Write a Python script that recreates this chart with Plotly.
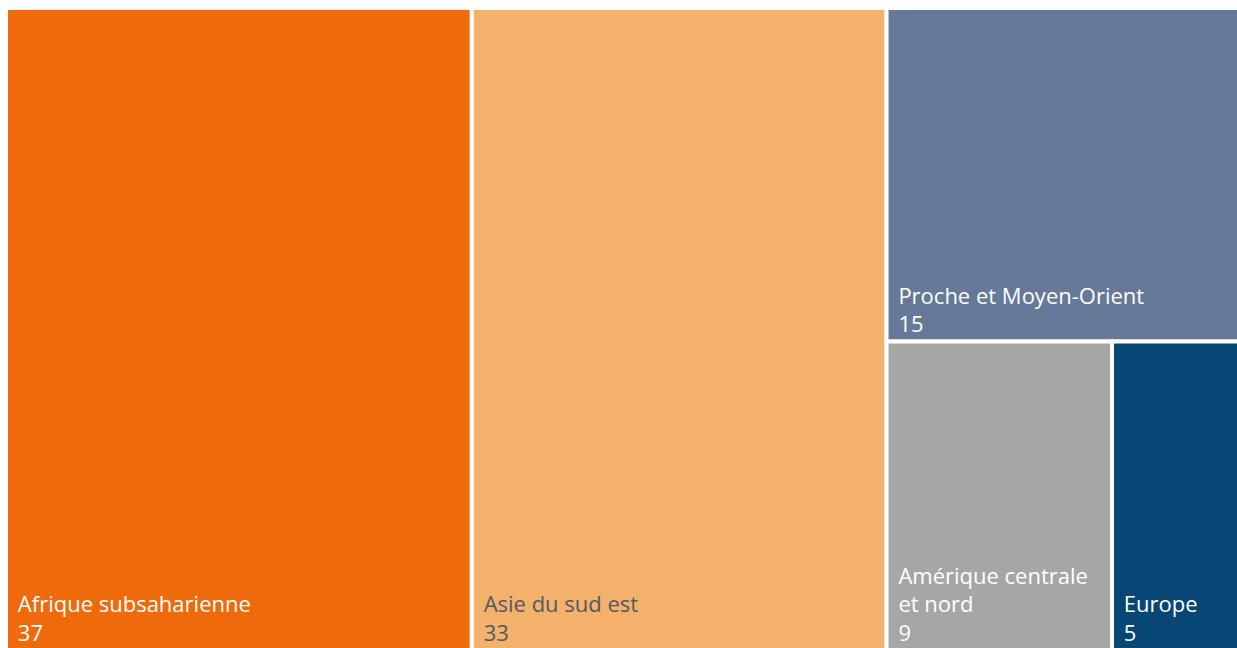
import plotly.graph_objects as go

labels = ["Afrique subsaharienne", "Asie du sud est", "Proche et Moyen-Orient",
          "Amérique centrale et nord", "Europe"]
label_lines = [["Afrique subsaharienne"], ["Asie du sud est"], ["Proche et Moyen-Orient"],
               ["Amérique centrale", "et nord"], ["Europe"]]
values = [37.4, 33.3, 14.7, 8.7, 4.9]
colors = ["#EE6A0B", "#F4B16B", "#667999", "#A6A6A6", "#084675"]
text_colors = ["#FFFFFF", "#545962", "#FFFFFF", "#FFFFFF", "#FFFFFF"]

PAD = '<span style="font-size:17px">\u00a0\u00a0</span>'
display = ["".join(PAD + ln + "<br>" for ln in lines) + PAD for lines in label_lines]

fig = go.Figure(go.Treemap(
    labels=labels,
    parents=[""] * len(labels),
    values=values,
    customdata=display,
    texttemplate="%{customdata}%{value:.0f}",
    textposition="bottom left",
    marker=dict(colors=colors, line=dict(color="white", width=4), pad=dict(t=0, l=0, r=0, b=0)),
    textfont=dict(family="Open Sans, sans-serif", size=22, color=text_colors),
    tiling=dict(packing="squarify", squarifyratio=1, pad=0),
    pathbar=dict(visible=False),
    sort=True,
    hovertemplate="%{label}: %{value:.0f}<extra></extra>",
))

fig.update_layout(
    width=1239, height=650,
    margin=dict(l=6, r=0, t=8, b=0),
    paper_bgcolor="white",
)

fig.write_html(
    "out.html",
    config={"displayModeBar": False},
    post_script="document.body.style.margin='0';document.body.style.overflow='hidden';",
)
